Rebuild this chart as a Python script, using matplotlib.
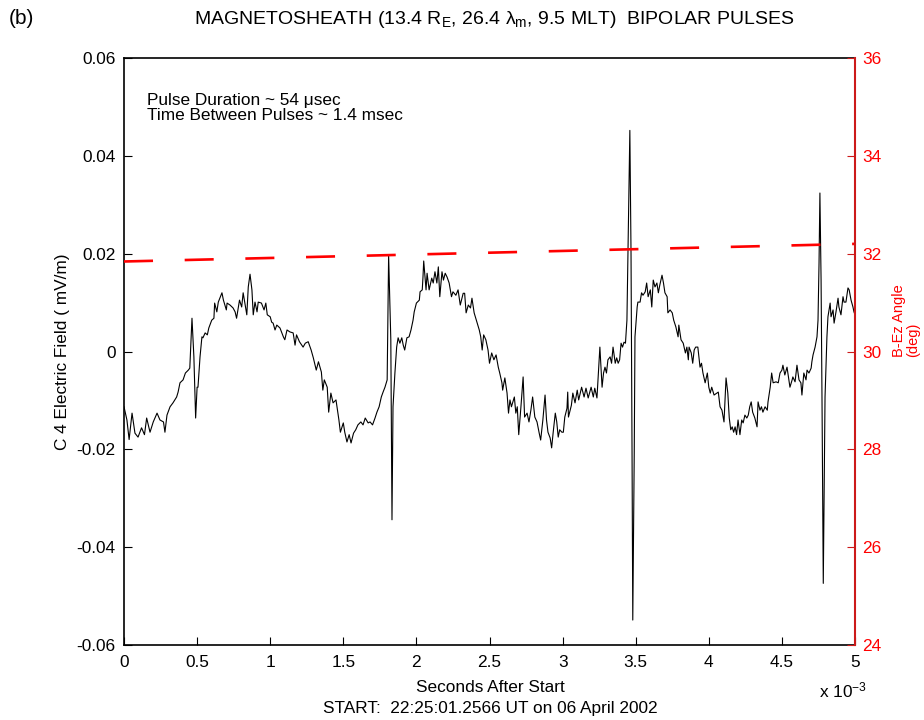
"""
Magnetosheath bipolar pulses - C4 electric field with B-Ez angle overlay.
"""

import numpy as np
import matplotlib
matplotlib.use("Agg")
import matplotlib.pyplot as plt

plt.rcParams["font.family"] = ["Liberation Sans", "DejaVu Sans"]
plt.rcParams["mathtext.fontset"] = "custom"
plt.rcParams["mathtext.rm"] = "Liberation Sans"
plt.rcParams["mathtext.it"] = "Liberation Sans:italic"

# Time after start (ms) and C4 electric field (mV/m)
t_ms = [
    0.00, 0.02, 0.035, 0.055, 0.075, 0.096, 0.12, 0.14, 0.155, 0.178, 0.20, 0.226,
    0.246, 0.27, 0.28, 0.294, 0.315, 0.335, 0.36, 0.37, 0.383, 0.404, 0.42, 0.44,
    0.45, 0.465, 0.478, 0.49, 0.50, 0.506, 0.52, 0.533, 0.54, 0.555, 0.57, 0.58,
    0.60, 0.615, 0.62, 0.635, 0.645, 0.67, 0.68, 0.70, 0.705, 0.725, 0.746, 0.76,
    0.77, 0.79, 0.805, 0.815, 0.827, 0.84, 0.85, 0.862, 0.875, 0.884, 0.896, 0.91,
    0.918, 0.94, 0.958, 0.97, 0.98, 1.00, 1.01, 1.02, 1.033, 1.045, 1.067, 1.09,
    1.10, 1.115, 1.135, 1.157, 1.17, 1.18, 1.20, 1.225, 1.24, 1.26, 1.28, 1.295,
    1.315, 1.33, 1.35, 1.36, 1.37, 1.39, 1.40, 1.415, 1.43, 1.45, 1.46, 1.47,
    1.48, 1.50, 1.51, 1.525, 1.54, 1.553, 1.57, 1.585, 1.60, 1.62, 1.635, 1.65,
    1.67, 1.683, 1.70, 1.717, 1.73, 1.745, 1.76, 1.772, 1.785, 1.80, 1.81, 1.825,
    1.833, 1.84, 1.853, 1.865, 1.875, 1.887, 1.90, 1.91, 1.92, 1.935, 1.95, 1.963,
    1.977, 1.985, 2.00, 2.02, 2.025, 2.04, 2.045, 2.05, 2.066, 2.073, 2.087, 2.105,
    2.115, 2.127, 2.14, 2.15, 2.16, 2.175, 2.185, 2.197, 2.21, 2.224, 2.24, 2.25,
    2.27, 2.285, 2.30, 2.32, 2.33, 2.34, 2.355, 2.37, 2.38, 2.395, 2.41, 2.43,
    2.44, 2.45, 2.46, 2.475, 2.49, 2.50, 2.515, 2.53, 2.545, 2.56, 2.57, 2.585,
    2.59, 2.605, 2.62, 2.63, 2.64, 2.65, 2.67, 2.68, 2.69, 2.70, 2.715, 2.73,
    2.74, 2.757, 2.77, 2.783, 2.795, 2.81, 2.825, 2.84, 2.85, 2.865, 2.88, 2.89,
    2.90, 2.915, 2.925, 2.935, 2.95, 2.96, 2.97, 2.98, 2.995, 3.005, 3.015, 3.03,
    3.035, 3.04, 3.06, 3.07, 3.085, 3.10, 3.11, 3.13, 3.147, 3.16, 3.175, 3.195,
    3.21, 3.22, 3.235, 3.245, 3.255, 3.27, 3.28, 3.29, 3.30, 3.31, 3.325, 3.335,
    3.345, 3.36, 3.37, 3.38, 3.39, 3.40, 3.41, 3.42, 3.43, 3.44, 3.447, 3.46,
    3.468, 3.475, 3.48, 3.49, 3.495, 3.51, 3.515, 3.53, 3.54, 3.55, 3.565, 3.575,
    3.585, 3.60, 3.61, 3.62, 3.632, 3.645, 3.655, 3.665, 3.68, 3.69, 3.70, 3.715,
    3.72, 3.735, 3.75, 3.76, 3.775, 3.79, 3.795, 3.81, 3.825, 3.84, 3.85, 3.86,
    3.865, 3.88, 3.89, 3.90, 3.91, 3.925, 3.94, 3.95, 3.96, 3.975, 3.99, 4.00,
    4.01, 4.02, 4.036, 4.055, 4.065, 4.077, 4.09, 4.104, 4.118, 4.13, 4.14, 4.15,
    4.16, 4.17, 4.18, 4.19, 4.20, 4.213, 4.225, 4.235, 4.247, 4.26, 4.27, 4.28,
    4.29, 4.30, 4.315, 4.33, 4.337, 4.35, 4.36, 4.37, 4.385, 4.40, 4.405, 4.42,
    4.43, 4.44, 4.46, 4.475, 4.487, 4.50, 4.507, 4.52, 4.535, 4.54, 4.555, 4.57,
    4.575, 4.59, 4.603, 4.617, 4.63, 4.637, 4.65, 4.665, 4.672, 4.685, 4.70, 4.705,
    4.713, 4.727, 4.74, 4.747, 4.754, 4.76, 4.768, 4.775, 4.783, 4.79, 4.795, 4.808,
    4.815, 4.83, 4.836, 4.85, 4.857, 4.87, 4.884, 4.89, 4.904, 4.918, 4.925, 4.938,
    4.952, 4.96, 4.973, 4.986, 4.993, 5.00,
]
efield = [
    -0.0113, -0.014, -0.018, -0.0126, -0.0167, -0.0175, -0.0156, -0.017, -0.0136, -0.0165, -0.0144, -0.0126,
    -0.014, -0.0144, -0.0165, -0.013, -0.0113, -0.0105, -0.0093, -0.0083, -0.0064, -0.0058, -0.0044, -0.0038,
    -0.0034, 0.0068, -0.0011, -0.0136, -0.0073, -0.0073, -0.0011, 0.003, 0.0028, 0.0038, 0.0034, 0.0048,
    0.0064, 0.0068, 0.0099, 0.0081, 0.0101, 0.012, 0.0105, 0.0085, 0.0099, 0.0095, 0.0089, 0.0081,
    0.0068, 0.0105, 0.0091, 0.012, 0.0099, 0.0075, 0.0132, 0.0158, 0.0126, 0.0075, 0.0101, 0.0081,
    0.0101, 0.0099, 0.0085, 0.0099, 0.0075, 0.0071, 0.006, 0.0058, 0.0044, 0.0054, 0.0048, 0.003,
    0.0024, 0.0044, 0.004, 0.0038, 0.0013, 0.0034, 0.002, 0.0009, 0.0017, 0.002, 0.0003, -0.0013,
    -0.0038, -0.0021, -0.0042, -0.0079, -0.0058, -0.0073, -0.0124, -0.0085, -0.0105, -0.0099, -0.012, -0.014,
    -0.0165, -0.0146, -0.0165, -0.0185, -0.017, -0.0187, -0.0167, -0.016, -0.015, -0.0144, -0.015, -0.0136,
    -0.0146, -0.0144, -0.015, -0.0136, -0.0124, -0.0113, -0.0093, -0.0083, -0.0073, -0.0058, 0.0196, 0.0024,
    -0.0344, -0.0113, -0.0044, 0.0009, 0.0028, 0.0017, 0.0028, 0.0013, 0.0003, 0.0028, 0.003, 0.0044,
    0.0064, 0.0081, 0.0099, 0.0105, 0.0122, 0.0126, 0.0152, 0.0185, 0.0126, 0.016, 0.0126, 0.015,
    0.014, 0.0163, 0.014, 0.0173, 0.0112, 0.0163, 0.0146, 0.016, 0.0152, 0.014, 0.0112, 0.0122,
    0.0115, 0.0126, 0.0095, 0.0119, 0.0119, 0.0079, 0.0095, 0.0089, 0.0109, 0.0079, 0.0064, 0.0044,
    0.003, 0.0003, 0.0034, 0.0024, 0.0003, -0.0024, -0.0003, -0.0017, -0.0007, -0.0032, -0.0044, -0.0064,
    -0.0079, -0.0054, -0.0085, -0.0126, -0.0099, -0.0113, -0.0093, -0.0126, -0.0113, -0.017, -0.0113, -0.0052,
    -0.0134, -0.0126, -0.0144, -0.012, -0.0093, -0.0134, -0.0144, -0.0167, -0.0181, -0.014, -0.0089, -0.014,
    -0.0165, -0.0177, -0.0197, -0.0167, -0.0126, -0.0144, -0.0175, -0.016, -0.0165, -0.0165, -0.0134, -0.0116,
    -0.0083, -0.0134, -0.011, -0.0085, -0.0105, -0.0079, -0.0099, -0.0073, -0.0093, -0.0075, -0.0095, -0.0073,
    -0.0093, -0.0075, -0.0095, -0.0044, 0.0009, -0.0073, -0.0044, -0.0032, -0.0044, -0.0017, -0.0011, -0.0024,
    0.0009, -0.0024, -0.0013, -0.0024, -0.0017, 0.0017, 0.0009, 0.0019, 0.0017, 0.0064, 0.0201, 0.0452,
    0.0201, -0.0208, -0.0549, -0.0208, 0.003, 0.0091, 0.0101, 0.0101, 0.012, 0.0115, 0.0122, 0.014,
    0.0112, 0.0126, 0.0091, 0.0146, 0.0132, 0.014, 0.012, 0.0136, 0.0156, 0.014, 0.012, 0.0112,
    0.0079, 0.0085, 0.0079, 0.0064, 0.005, 0.003, 0.0054, 0.0024, 0.0017, -0.0003, 0.0009, -0.0017,
    0.0009, -0.0003, -0.0024, 0.0003, 0.0009, 0.0009, -0.0032, -0.0024, -0.0044, -0.0064, -0.0044, -0.0073,
    -0.0085, -0.0073, -0.0089, -0.0085, -0.0083, -0.0113, -0.012, -0.0144, -0.0054, -0.0085, -0.0136, -0.016,
    -0.0154, -0.0165, -0.0154, -0.017, -0.014, -0.017, -0.014, -0.0146, -0.013, -0.0136, -0.013, -0.0113,
    -0.0103, -0.0124, -0.0136, -0.0154, -0.0103, -0.012, -0.0113, -0.0124, -0.0113, -0.012, -0.0103, -0.0073,
    -0.0044, -0.0064, -0.0062, -0.0064, -0.0044, -0.0038, -0.0028, -0.0048, -0.0032, -0.0042, -0.0073, -0.0058,
    -0.0052, -0.0062, -0.0028, -0.0058, -0.0064, -0.0089, -0.0044, -0.0058, -0.0038, -0.0044, -0.0034, -0.0021,
    -0.0007, 0.0009, 0.003, 0.0064, 0.0181, 0.0324, 0.0146, -0.0126, -0.0474, -0.0263, -0.0093, 0.003,
    0.0071, 0.0099, 0.0071, 0.0085, 0.0058, 0.0081, 0.0109, 0.0091, 0.0075, 0.0112, 0.0101, 0.0101,
    0.013, 0.0126, 0.0105, 0.0091, 0.0081, 0.0075,
]

# B-Ez angle (deg), a slow drift over the interval
angle_t_ms = [0.0, 5.0]
angle_deg = [31.84, 32.2]

x_ticks = [0, 0.5, 1, 1.5, 2, 2.5, 3, 3.5, 4, 4.5, 5]
x_labels = ["0", "0.5", "1", "1.5", "2", "2.5", "3", "3.5", "4", "4.5", "5"]
y_ticks = [-0.06, -0.04, -0.02, 0, 0.02, 0.04, 0.06]
y_labels = ["-0.06", "-0.04", "-0.02", "0", "0.02", "0.04", "0.06"]
angle_ticks = [24, 26, 28, 30, 32, 34, 36]

RED = "#ff0000"
DARK_RED = "#cc1a1a"
FS = 12.4

fig = plt.figure(figsize=(9.24, 7.2), dpi=100)
ax = fig.add_axes([124 / 924, 1 - 645 / 720, (855 - 124) / 924, (645 - 58) / 720])

ax.plot(t_ms, efield, color="black", lw=0.8)
ax.set_xlim(0, 5)
ax.set_ylim(-0.06, 0.06)
ax.set_xticks(x_ticks)
ax.set_xticklabels(x_labels)
ax.set_yticks(y_ticks)
ax.set_yticklabels(y_labels)
ax.tick_params(direction="in", length=6, width=0.8, labelsize=FS, pad=6)
ax.tick_params(axis="x", pad=7)
ax.set_ylabel("C 4 Electric Field ( mV/m)", fontsize=FS)
ax.yaxis.set_label_coords(-0.074, 0.5)
ax.spines["right"].set_visible(False)
for side in ("left", "bottom", "top"):
    ax.spines[side].set_linewidth(1.2)

ax2 = ax.twinx()
ax2.plot(angle_t_ms, angle_deg, color=RED, lw=1.9, dashes=(11, 12))
ax2.set_ylim(24, 36)
ax2.set_yticks(angle_ticks)
ax2.tick_params(axis="y", direction="in", length=6, width=0.8,
                colors=DARK_RED, labelcolor=RED, labelsize=FS, pad=5)
for side in ("left", "bottom", "top"):
    ax2.spines[side].set_visible(False)
ax2.spines["right"].set_color(DARK_RED)
ax2.spines["right"].set_linewidth(1.5)

# right axis label, two lines aligned at their start
fig.text(906 / 924, 1 - 357 / 720, "B-Ez Angle\n(deg)", color=RED, fontsize=10.5,
         family=["Liberation Sans Narrow", "Liberation Sans"],
         rotation=90, ha="center", va="bottom", multialignment="left",
         linespacing=1.0)

ax.text(0.032, 0.94, "Pulse Duration ~ 54 \u03bcsec\nTime Between Pulses ~ 1.4 msec",
        transform=ax.transAxes, fontsize=FS, va="top", ha="left", linespacing=1.02)

fig.text(494 / 924, 1 - 20 / 720,
         "MAGNETOSHEATH (13.4 R$_\\mathregular{E}$, 26.4 \u03bb$_\\mathregular{m}$, 9.5 MLT)  BIPOLAR PULSES",
         ha="center", va="center", fontsize=14)
fig.text(9 / 924, 1 - 18 / 720, "(b)", ha="left", va="center", fontsize=15)

fig.text(490 / 924, 1 - 687 / 720, "Seconds After Start", ha="center", va="center", fontsize=FS)
fig.text(490 / 924, 1 - 709 / 720, "START:  22:25:01.2566 UT on 06 April 2002",
         ha="center", va="center", fontsize=FS)
fig.text(819 / 924, 1 - 690 / 720, "x 10$^\\mathregular{-3}$", ha="left", va="center", fontsize=FS)

fig.savefig("out.png", dpi=100)
